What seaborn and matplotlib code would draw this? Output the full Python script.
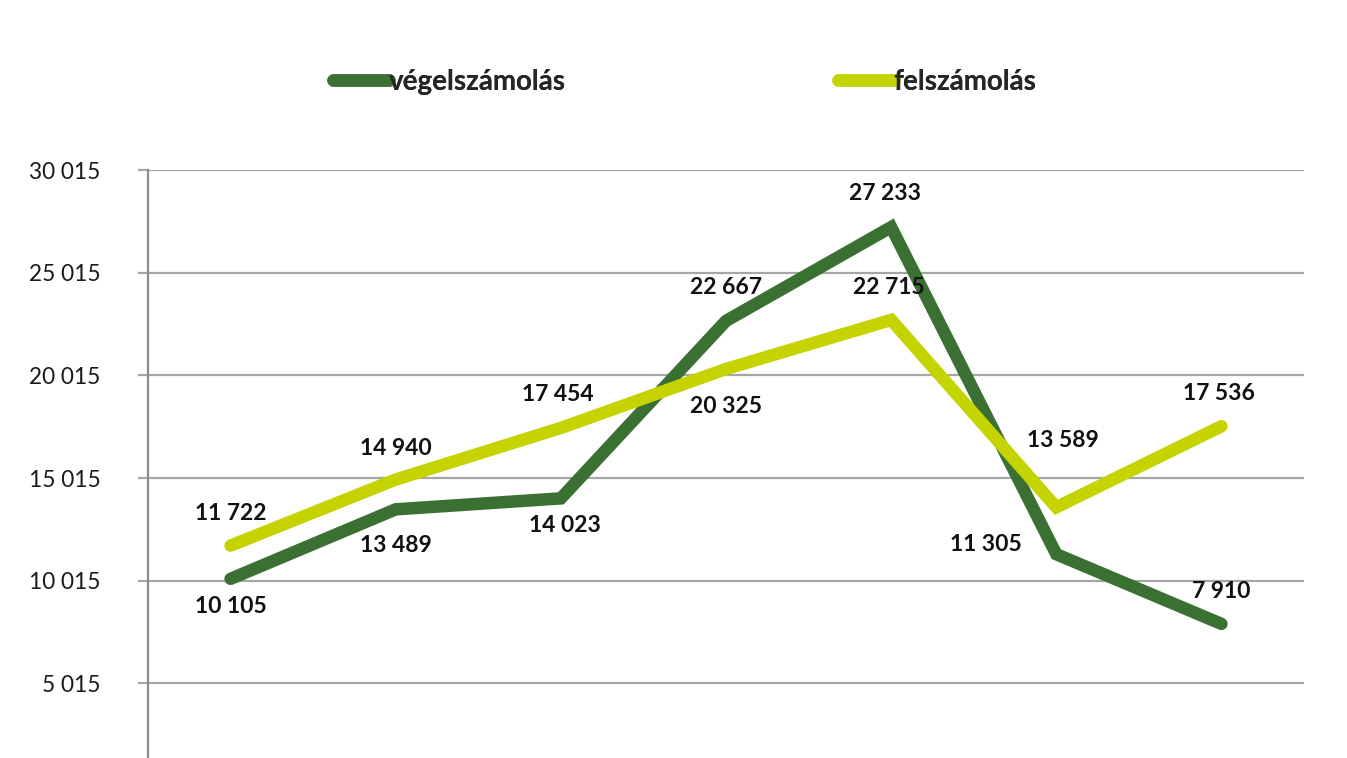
import matplotlib
matplotlib.use("Agg")
import matplotlib.pyplot as plt
from matplotlib.lines import Line2D
import seaborn as sns
import pandas as pd
import numpy as np

# ---- data ----
positions = [0, 1, 2, 3, 4, 5, 6]
series_names = ["végelszámolás", "felszámolás"]
vegelszamolas = [10105, 13489, 14023, 22667, 27233, 11305, 7910]
felszamolas = [11722, 14940, 17454, 20325, 22715, 13589, 17536]
y_ticks = [5015, 10015, 15015, 20015, 25015, 30015]
y_tick_labels = ["5 015", "10 015", "15 015", "20 015", "25 015", "30 015"]

# label offsets (pixels) relative to each point
off_dark = [(0, -28), (0, -36), (4, -27), (0, 33), (-6, 34), (-70, 10), (0, 32)]
off_light = [(0, 32), (0, 31), (-3, 33), (0, -38), (-2, 32), (7, 67), (-2, 33)]

colors = {"végelszámolás": "#3A7031", "felszámolás": "#C5D300"}

df = pd.DataFrame({
    "x": [p + 0.5 for p in positions] * 2,
    "value": vegelszamolas + felszamolas,
    "series": [series_names[0]] * len(positions) + [series_names[1]] * len(positions),
})

sns.set_theme(style="white")
plt.rcParams["font.family"] = ["Lato", "DejaVu Sans"]

W, H = 1347, 758
fig = plt.figure(figsize=(W / 100, H / 100), dpi=100)
ax_left, ax_right = 148 / W, 1304 / W
ax_top = 1 - 170 / H
ax_bottom = 1 - 786 / H
ax = fig.add_axes([ax_left, ax_bottom, ax_right - ax_left, ax_top - ax_bottom])

lw = 9
sns.lineplot(data=df, x="x", y="value", hue="series", palette=colors,
             linewidth=lw, ax=ax, legend=False, sort=False)
for line in ax.get_lines():
    line.set_solid_capstyle("round")
    line.set_solid_joinstyle("miter")
    line.set_zorder(3)

ax.set_xlim(0, 7)
ax.set_ylim(15, 30015)
ax.set_yticks(y_ticks)
ax.set_yticklabels(y_tick_labels)
ax.set_xticks([])
ax.set_xlabel("")
ax.set_ylabel("")

grid_c = "#A6A6A6"
ax.grid(axis="y", color=grid_c, linewidth=1.6, zorder=0)
ax.set_axisbelow(True)
for s in ["top", "right", "bottom"]:
    ax.spines[s].set_visible(False)
ax.spines["left"].set_color("#8C8C8C")
ax.spines["left"].set_linewidth(1.6)
ax.tick_params(axis="y", which="major", direction="out", length=7.2, width=1.6,
               color=grid_c, pad=27, labelsize=16.3, labelcolor="#1a1a1a", left=True)

for i, v in enumerate(vegelszamolas):
    ax.annotate(f"{v:,}".replace(",", " "), (positions[i] + 0.5, v),
                xytext=off_dark[i], textcoords="offset pixels",
                ha="center", va="center", fontsize=16.5, fontweight="bold",
                color="#111111", zorder=5)
for i, v in enumerate(felszamolas):
    ax.annotate(f"{v:,}".replace(",", " "), (positions[i] + 0.5, v),
                xytext=off_light[i], textcoords="offset pixels",
                ha="center", va="center", fontsize=16.5, fontweight="bold",
                color="#111111", zorder=5)

# legend: two separate entries
for name, xpix in [(series_names[0], 333), (series_names[1], 838)]:
    h = Line2D([], [], color=colors[name], linewidth=lw, solid_capstyle="round")
    leg = fig.legend(handles=[h], labels=[name], loc="center left",
                     bbox_to_anchor=(xpix / W, 1 - 82 / H), frameon=False,
                     handlelength=2.0, handletextpad=0.0, borderpad=0,
                     borderaxespad=0, prop={"size": 20, "weight": "bold"})
    fig.add_artist(leg)

fig.savefig("out.png", dpi=100)
